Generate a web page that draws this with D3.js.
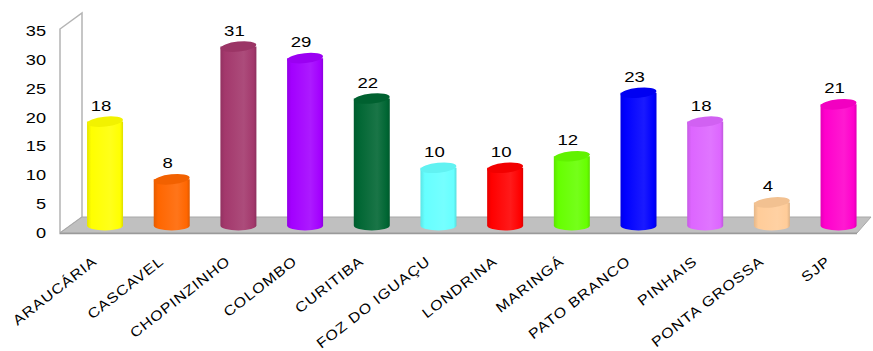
<!DOCTYPE html>
<html>
<head>
<meta charset="utf-8">
<script src="https://cdn.jsdelivr.net/npm/d3@7"></script>
<style>
  html, body { margin: 0; padding: 0; background: #fff; }
  svg { display: block; }
  text { font-family: "Liberation Sans", Arial, sans-serif; fill: #000; }
</style>
</head>
<body>
<svg id="chart" width="873" height="351"></svg>
<script>
// Municipalities and their counts
const categories = ["ARAUCÁRIA", "CASCAVEL", "CHOPINZINHO", "COLOMBO", "CURITIBA", "FOZ DO IGUAÇU",
  "LONDRINA", "MARINGÁ", "PATO BRANCO", "PINHAIS", "PONTA GROSSA", "SJP"];
const values = [18, 8, 31, 29, 22, 10, 10, 12, 23, 18, 4, 21];
const barColors = ["#FFFF00", "#FF6600", "#A3386C", "#A300FF", "#006633", "#66FFFF",
  "#FF0000", "#66FF00", "#0000FF", "#DD66FF", "#FFCC99", "#FF00CC"];
const yTicks = [0, 5, 10, 15, 20, 25, 30, 35];

const svg = d3.select("#chart");

// text in this chart is drawn horizontally widened
const stretch = 1.3;

// depth offset of the 3D box (back plane is shifted up/right)
const depthX = 22, depthY = -16;

// value scale at the front edge (axis labels) and at mid-depth (bars)
const yFront = d3.scaleLinear().domain([0, 35]).range([233, 31]);
const yMid = d3.scaleLinear().domain([0, 35]).range([225.5, 23.5]);

const x = d3.scaleBand().domain(categories).range([71.7, 871.9]);

// gradients for cylinder bodies
const defs = svg.append("defs");
barColors.forEach((c, i) => {
  const base = d3.color(c);
  const g = defs.append("linearGradient").attr("id", "cyl" + i)
    .attr("x1", "0%").attr("x2", "100%").attr("y1", "0%").attr("y2", "0%");
  g.append("stop").attr("offset", "0%").attr("stop-color", base.darker(0.3));
  g.append("stop").attr("offset", "12%").attr("stop-color", base);
  g.append("stop").attr("offset", "65%").attr("stop-color", d3.interpolateRgb(base, "#fff")(0.1));
  g.append("stop").attr("offset", "92%").attr("stop-color", base);
  g.append("stop").attr("offset", "100%").attr("stop-color", base.darker(0.4));
});

// left side wall
const fx = 60;
svg.append("path")
  .attr("d", `M${fx},${yFront(35) - 2} L${fx + depthX},${yFront(35) - 2 + depthY} L${fx + depthX},${yFront(0) + depthY} L${fx},${yFront(0)} Z`)
  .attr("fill", "#fff").attr("stroke", "#b4b4b4").attr("stroke-width", 1.5);

// floor
const floorRightFront = 857, floorRightBack = 871;
svg.append("path")
  .attr("d", `M${fx},${yFront(0)} L${fx + depthX},${yFront(0) + depthY} L${floorRightBack},${yFront(0) + depthY} L${floorRightFront},${yFront(0)} Z`)
  .attr("fill", "#c0c0c0").attr("stroke", "#a8a8a8").attr("stroke-width", 1);
svg.append("line")
  .attr("x1", fx).attr("x2", floorRightFront)
  .attr("y1", yFront(0) + 0.5).attr("y2", yFront(0) + 0.5)
  .attr("stroke", "#9a9a9a").attr("stroke-width", 1.5);

// y-axis tick labels
svg.append("g").selectAll("text").data(yTicks).join("text")
  .attr("transform", d => `translate(46,${yFront(d)}) scale(${stretch},1)`)
  .attr("dy", "0.36em")
  .attr("text-anchor", "end")
  .style("font-size", "14px")
  .text(d => d);

// cylinders
const bw = 36, ry = 5;
const bars = svg.append("g").selectAll("g").data(categories).join("g");
bars.each(function (c, i) {
  const g = d3.select(this);
  const cx = x(c) + x.bandwidth() / 2;
  const yb = yMid(0), yt = yMid(values[i]);
  const l = cx - bw / 2, r = cx + bw / 2;
  g.append("path")
    .attr("d", `M${l},${yt} L${l},${yb} A${bw / 2},${ry} 0 0 0 ${r},${yb} L${r},${yt} Z`)
    .attr("fill", `url(#cyl${i})`);
  g.append("ellipse")
    .attr("cx", cx).attr("cy", yt).attr("rx", bw / 2).attr("ry", ry)
    .attr("transform", `rotate(-6 ${cx} ${yt})`)
    .attr("fill", d3.color(barColors[i]).darker(0.15));
  g.append("text")
    .attr("transform", `translate(${cx - 4},${yt - 11}) scale(1.2,1)`)
    .attr("text-anchor", "middle")
    .style("font-size", "15.5px")
    .text(values[i]);
});

// category labels, slanted under each cylinder
svg.append("g").selectAll("text").data(categories).join("text")
  .attr("transform", d => `translate(${x(d) + x.bandwidth() / 2 - 7},263) rotate(-38) scale(1.15,1)`)
  .attr("text-anchor", "end")
  .style("font-size", "14px")
  .style("letter-spacing", "0.8px")
  .text(d => d);
</script>
</body>
</html>
